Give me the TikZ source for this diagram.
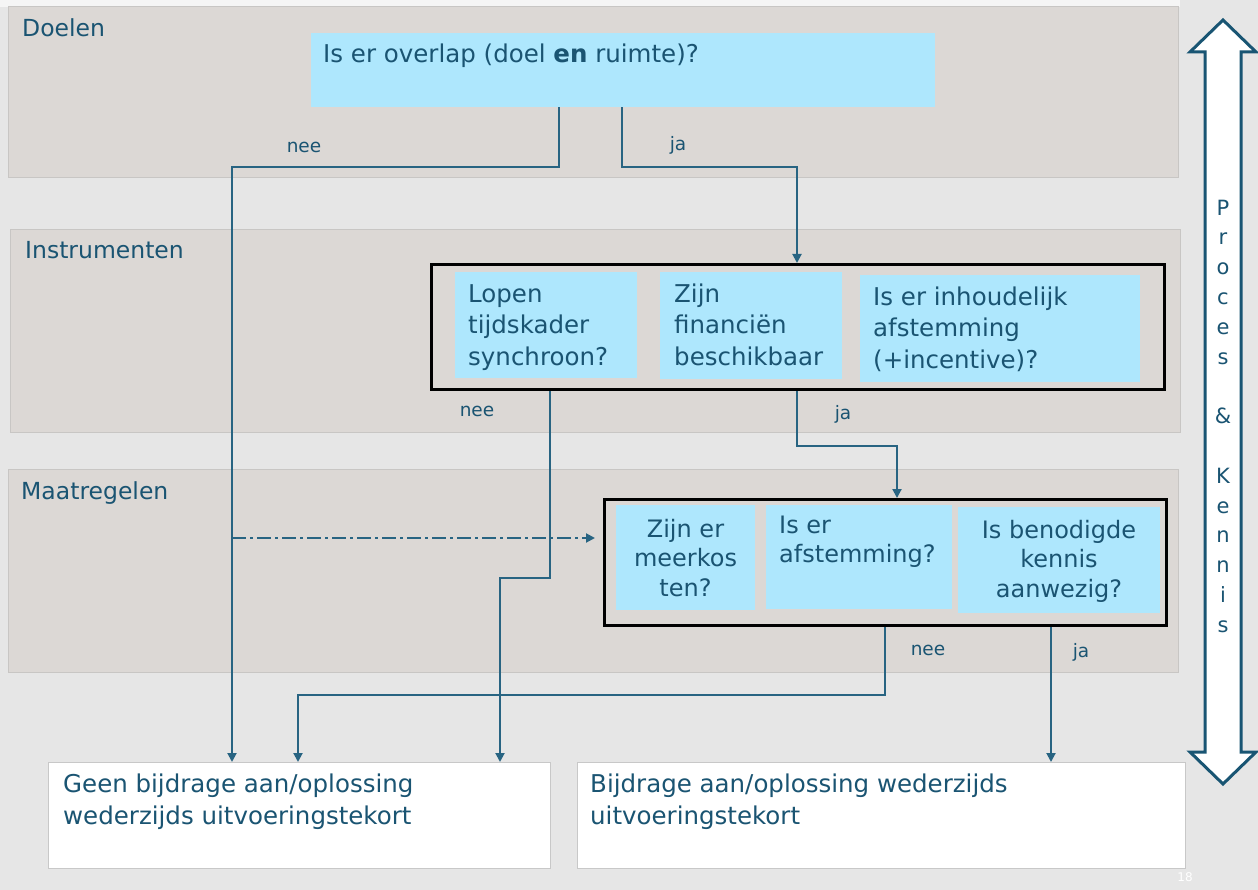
\documentclass[tikz,border=0pt]{standalone}
\usepackage{fontspec}
\setmainfont{DejaVu Sans}
\usetikzlibrary{arrows.meta}
\definecolor{bgc}{RGB}{230,230,230}
\definecolor{bandc}{RGB}{220,216,213}
\definecolor{bandline}{RGB}{200,198,196}
\definecolor{cyanbox}{RGB}{174,231,253}
\definecolor{txtc}{RGB}{26,84,114}
\definecolor{linec}{RGB}{40,100,130}
\definecolor{arrc}{RGB}{25,85,115}
\tikzset{
  band/.style={fill=bandc, draw=bandline, line width=1pt},
  cbox/.style={fill=cyanbox, draw=none, inner sep=0pt, anchor=north west},
  frame/.style={draw=black, line width=3pt, fill=none, inner sep=0pt, anchor=north west},
  endbox/.style={fill=white, draw={rgb,255:red,200;green,200;blue,200}, line width=1pt, inner sep=0pt, anchor=north west},
  btxt/.style={text=txtc, inner sep=0pt, font=\fontsize{24.5}{31.5}\selectfont},
  mtxt/.style={text=txtc, inner sep=0pt, font=\fontsize{24}{29.5}\selectfont},
  bandlbl/.style={text=txtc, inner sep=0pt, anchor=base west, font=\fontsize{23.5}{28}\selectfont},
  yn/.style={text=txtc, inner sep=0pt, anchor=base, font=\fontsize{18.5}{22}\selectfont},
  conn/.style={draw=linec, line width=2pt, -{Triangle[width=9pt,length=9pt]}},
  dashdot/.style={dash pattern=on 14pt off 4pt on 3pt off 4pt},
}
\begin{document}
\begin{tikzpicture}[x=1pt,y=-1pt]
\useasboundingbox (0,0) rectangle (1258,890);
\fill[bgc] (0,0) rectangle (1258,890);
\fill[white!96!black] (0,0) rectangle (1180,7);
% bands
\draw[band] (8,7) rectangle (1178,178);
\draw[band] (10,230) rectangle (1180,432);
\draw[band] (8,469) rectangle (1178,672);
\node[bandlbl] (lD) at (22,37) {Doelen};
\node[bandlbl] (lI) at (25,259) {Instrumenten};
\node[bandlbl] (lM) at (21,499) {Maatregelen};

% top question
\node[cbox, minimum width=624pt, minimum height=74pt] (q0) at (311,33) {};
\node[btxt, anchor=north west] (q0t) at (323,40.3) {\strut Is er overlap (doel \textbf{en} ruimte)?};

% instrumenten
\node[cbox, minimum width=182pt, minimum height=106pt] (i1) at (455,272) {};
\node[cbox, minimum width=182pt, minimum height=107pt] (i2) at (660,272) {};
\node[cbox, minimum width=280pt, minimum height=107pt] (i3) at (860,275) {};
\node[frame, minimum width=733pt, minimum height=125pt] (ib) at (430,263) {};
\node[btxt, anchor=north west, align=left] (i1t) at (468,280) {\strut Lopen\\tijdskader\\synchroon?};
\node[btxt, anchor=north west, align=left] (i2t) at (674,280) {\strut Zijn\\financiën\\beschikbaar};
\node[btxt, anchor=north west, align=left] (i3t) at (873,283) {\strut Is er inhoudelijk\\afstemming\\(+incentive)?};

% maatregelen
\node[cbox, minimum width=139pt, minimum height=105pt] (m1) at (616,505) {};
\node[cbox, minimum width=186pt, minimum height=104pt] (m2) at (766,505) {};
\node[cbox, minimum width=202pt, minimum height=106pt] (m3) at (958,507) {};
\node[frame, minimum width=562pt, minimum height=126pt] (mb) at (603,498) {};
\node[mtxt, anchor=north, align=center] (m1t) at (685.5,516.5) {\strut Zijn er\\meerkos\\ten?};
\node[mtxt, anchor=north west, align=left] (m2t) at (779,512.5) {\strut Is er\\afstemming?};
\node[mtxt, anchor=north, align=center] (m3t) at (1059,517.5) {\strut Is benodigde\\kennis\\aanwezig?};

% end boxes
\node[endbox, minimum width=502pt, minimum height=106pt] (gb) at (48,762) {};
\node[endbox, minimum width=608pt, minimum height=106pt] (bb) at (577,762) {};
\node[btxt, anchor=north west, align=left] (gbt) at (63,770.3) {\strut Geen bijdrage aan/oplossing\\wederzijds uitvoeringstekort};
\node[btxt, anchor=north west, align=left] (bbt) at (590,770.3) {\strut Bijdrage aan/oplossing wederzijds\\uitvoeringstekort};

% connectors
\draw[conn] ([xshift=248pt]q0.south west) -- ++(0,60) -| ([xshift=184pt]gb.north west);
\draw[conn] ([xshift=311pt]q0.south west) -- ++(0,60) -| ([xshift=367pt]ib.north west);
\draw[conn] ([xshift=120pt]ib.south west) -- ++(0,187) -| ([xshift=452pt]gb.north west);
\draw[conn] ([xshift=367pt]ib.south west) -- ++(0,55) -| ([xshift=294pt]mb.north west);
\draw[conn] ([xshift=282pt]mb.south west) -- ++(0,68) -| ([xshift=250pt]gb.north west);
\draw[conn] ([xshift=448pt]mb.south west) -- ([xshift=474pt]bb.north west);
\coordinate (dd) at (232,538);
\draw[conn, dashdot, shorten >=8pt] (dd) -- (mb.west |- dd);

% labels
\node[yn] (y1) at (304,153) {nee};
\node[yn] (y2) at (678,151) {ja};
\node[yn] (y3) at (477,417) {nee};
\node[yn] (y4) at (843,419) {ja};
\node[yn] (y5) at (928,655) {nee};
\node[yn] (y6) at (1081,657) {ja};

% right double arrow
\draw[arrc, fill=white, line width=3pt, line join=miter]
  (1223,20) -- (1256,52) -- (1241,52) -- (1241,752) -- (1256,752) -- (1223,784)
  -- (1190,752) -- (1205,752) -- (1205,52) -- (1190,52) -- cycle;
\node[text=txtc, inner sep=0pt, anchor=north, align=center, font=\fontsize{21}{29.8}\selectfont] (pk) at (1223,194)
  {\strut P\\r\\o\\c\\e\\s\\\strut\\\&\\\strut\\K\\e\\n\\n\\i\\s};

\node[text=white, inner sep=0pt, font=\fontsize{12}{14}\selectfont] (pg) at (1185,877) {18};
\end{tikzpicture}
\end{document}
